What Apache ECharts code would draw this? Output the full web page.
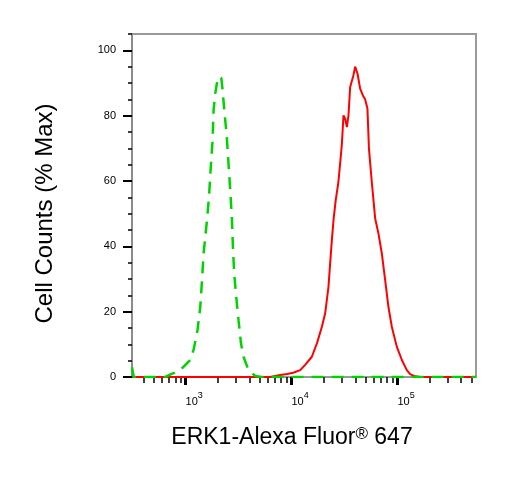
<!DOCTYPE html>
<html>
<head>
<meta charset="utf-8">
<script src="https://cdn.jsdelivr.net/npm/echarts@6/dist/echarts.min.js"></script>
<style>
  html, body { margin: 0; padding: 0; background: #fff; }
  #chart { width: 515px; height: 490px; }
</style>
</head>
<body>
<div id="chart"></div>
<script>
// isotype control (green dashed) - fluorescence intensity / % of max
var greenX = [312, 324, 643, 748, 891, 1107, 1189, 1297, 1377, 1429, 1479, 1592, 1663, 1722, 1799, 1837, 1905, 1977, 2080, 2173,
  2218, 2317, 2449, 2547, 2642, 2742, 2799, 2877, 3006, 3162, 3334, 3524, 3926, 4550, 5248, 552000];
var greenY = [3, 0, 0, 1, 2.1, 5.2, 8.3, 14.4, 21.5, 29.7, 37.8, 48, 55, 63.3, 72.5, 81.6, 86.7, 90, 92, 91.6,
  89, 82, 73.5, 65, 57, 48, 39.8, 31.7, 24.6, 17.4, 10.3, 6.2, 2.1, 0.3, 0, 0];

// ERK1 stained sample (red)
var redX = [312, 6295, 7816, 9099, 10375, 12078, 13459, 15560, 17378, 19364, 20797, 22336, 23174, 24044, 25003,
  26122, 27733, 29854, 30974, 32137, 33343, 34514, 35810, 38459, 39902, 41976, 44463, 47206, 49545, 52119,
  53827, 57280, 61660, 66222, 71285, 76560, 82224, 88512, 98628, 110154, 122744, 131826, 143880, 163682, 552000];
var redY = [0, 0, 0.6, 0.9, 1.3, 2.1, 3.7, 6.2, 10.3, 15.4, 19.5, 27.6, 34.8, 41.9, 48.5,
  54, 59.7, 71, 80.1, 79, 76.5, 80.1, 88.8, 92.4, 95, 92.9, 88.3, 86.2, 85, 82.2,
  70, 59.7, 48.5, 43.9, 37.8, 29.7, 21.5, 15.4, 9.3, 5.2, 2.1, 0.9, 0.3, 0, 0];

// ticks
var xMajor = [1000, 10000, 100000];
var xMinor = [400, 500, 600, 700, 800, 900, 2000, 3000, 4000, 5000, 6000, 7000, 8000, 9000,
  20000, 30000, 40000, 50000, 60000, 70000, 80000, 90000, 200000, 300000, 400000, 500000];
var yMajor = [0, 20, 40, 60, 80, 100];
var yMinor = [5, 10, 15, 25, 30, 35, 45, 50, 55, 65, 70, 75, 85, 90, 95, 105];

var xMin = 312, xMax = 552000, yMin = 0, yMax = 105;
var font = "'Liberation Sans', Arial, sans-serif";

function pairs(xs, ys) {
  return xs.map(function (x, i) { return [x, ys[i]]; });
}

var chart = echarts.init(document.getElementById('chart'));
var option = {
  backgroundColor: '#fff',
  animation: false,
  textStyle: { fontFamily: font },
  grid: {
    left: 132, right: 39, top: 34, bottom: 113,
    show: true, borderColor: '#9a9a9a', borderWidth: 2
  },
  xAxis: [{
    type: 'log', min: xMin, max: xMax, position: 'bottom',
    axisLine: { onZero: false, lineStyle: { color: '#9a9a9a', width: 2 } },
    axisTick: { customValues: xMajor, length: 8, lineStyle: { color: '#000', width: 3 } },
    axisLabel: {
      customValues: xMajor, align: 'left', margin: 14, color: '#000',
      formatter: function (v) { return '{b|10}{s|' + Math.round(Math.log10(v)) + '}'; },
      rich: {
        b: { fontSize: 11, color: '#000', fontFamily: font },
        s: { fontSize: 9, color: '#000', fontFamily: font, padding: [0, 0, 12, 0] }
      }
    },
    splitLine: { show: false },
    name: 'ERK1-Alexa Fluor{r|®} 647', nameLocation: 'middle', nameGap: 49,
    nameTextStyle: {
      fontSize: 23, color: '#000', fontFamily: font, padding: [0, 24, 0, 0],
      rich: { r: { fontSize: 17, color: '#000', fontFamily: font, padding: [0, 0, 6, 0] } }
    }
  }, {
    type: 'log', min: xMin, max: xMax, position: 'bottom',
    axisLine: { show: false, onZero: false },
    axisTick: { customValues: xMinor, length: 6, lineStyle: { color: '#000', width: 1.5 } },
    axisLabel: { show: false },
    splitLine: { show: false }
  }],
  yAxis: [{
    type: 'value', min: yMin, max: yMax, position: 'left',
    axisLine: { show: true, onZero: false, lineStyle: { color: '#8c8c8c', width: 2 } },
    axisTick: { show: true, customValues: yMajor, length: 9, lineStyle: { color: '#000', width: 2 } },
    axisLabel: { customValues: yMajor, margin: 16, fontSize: 11, color: '#000' },
    splitLine: { show: false },
    name: 'Cell Counts (% Max)', nameLocation: 'middle', nameRotate: 90, nameGap: 75,
    nameTextStyle: { fontSize: 24, color: '#000', fontFamily: font, padding: [0, 16, 0, 0] }
  }, {
    type: 'value', min: yMin, max: yMax, position: 'left',
    axisLine: { show: false, onZero: false },
    axisTick: { show: true, customValues: yMinor, length: 4, lineStyle: { color: '#000', width: 1.5 } },
    axisLabel: { show: false },
    splitLine: { show: false }
  }],
  series: [{
    name: 'ERK1',
    type: 'line',
    data: pairs(redX, redY),
    showSymbol: false,
    lineStyle: { color: '#ff0000', width: 2 },
    z: 2
  }, {
    name: 'Isotype',
    type: 'line',
    data: pairs(greenX, greenY),
    showSymbol: false,
    lineStyle: { color: '#00d400', width: 2.5, type: [12, 8] },
    z: 3
  }]
};
chart.setOption(option);
</script>
</body>
</html>
